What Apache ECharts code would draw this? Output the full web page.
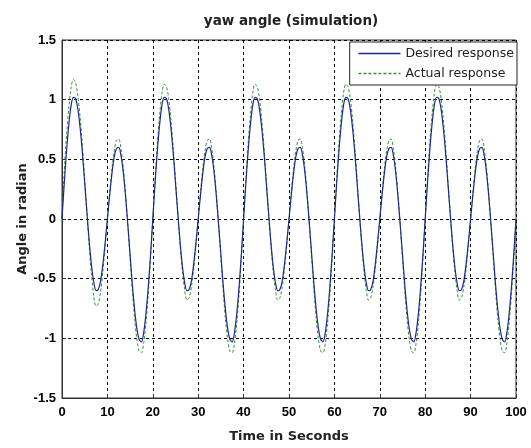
<!DOCTYPE html>
<html>
<head>
  <meta charset="UTF-8">
  <title>yaw angle (simulation)</title>
  <script src="https://cdn.jsdelivr.net/npm/echarts@6/dist/echarts.min.js"></script>
  <style>
    html, body { margin: 0; padding: 0; background: #fff; }
  </style>
</head>
<body>
  <div id="main" style="width: 531px; height: 448px;"></div>

  <script>
    // samples every 0.5 s, 0 .. 100 s
    const stepSeconds = 0.5;

    const desired = [
      0, 0.30, 0.57, 0.79, 0.95, 1.02, 1.01, 0.92, 0.76, 0.55, 0.30, 0.05, -0.19, -0.39, -0.53, -0.60, -0.59, -0.52, -0.38, -0.20,
      0, 0.20, 0.38, 0.52, 0.59, 0.60, 0.53, 0.39, 0.19, -0.05, -0.30, -0.55, -0.76, -0.92, -1.01, -1.03, -0.95, -0.79, -0.57, -0.30,
      0, 0.30, 0.57, 0.79, 0.95, 1.02, 1.01, 0.92, 0.76, 0.55, 0.30, 0.05, -0.19, -0.39, -0.53, -0.60, -0.59, -0.52, -0.38, -0.20,
      0, 0.20, 0.38, 0.52, 0.59, 0.60, 0.53, 0.39, 0.19, -0.05, -0.30, -0.55, -0.76, -0.92, -1.01, -1.03, -0.95, -0.79, -0.57, -0.30,
      0, 0.30, 0.57, 0.79, 0.95, 1.02, 1.01, 0.92, 0.76, 0.55, 0.30, 0.05, -0.19, -0.39, -0.53, -0.60, -0.59, -0.52, -0.38, -0.20,
      0, 0.20, 0.38, 0.52, 0.59, 0.60, 0.53, 0.39, 0.19, -0.05, -0.30, -0.55, -0.76, -0.92, -1.01, -1.03, -0.95, -0.79, -0.57, -0.30,
      0, 0.30, 0.57, 0.79, 0.95, 1.02, 1.01, 0.92, 0.76, 0.55, 0.30, 0.05, -0.19, -0.39, -0.53, -0.60, -0.59, -0.52, -0.38, -0.20,
      0, 0.20, 0.38, 0.52, 0.59, 0.60, 0.53, 0.39, 0.19, -0.05, -0.30, -0.55, -0.76, -0.92, -1.01, -1.03, -0.95, -0.79, -0.57, -0.30,
      0, 0.30, 0.57, 0.79, 0.95, 1.02, 1.01, 0.92, 0.76, 0.55, 0.30, 0.05, -0.19, -0.39, -0.53, -0.60, -0.59, -0.52, -0.38, -0.20,
      0, 0.20, 0.38, 0.52, 0.59, 0.60, 0.53, 0.39, 0.19, -0.05, -0.30, -0.55, -0.76, -0.92, -1.01, -1.03, -0.95, -0.79, -0.57, -0.30,
      0
    ];

    const actual = [
      0, 0.40, 0.70, 0.93, 1.10, 1.17, 1.14, 1.03, 0.85, 0.61, 0.33, 0.05, -0.23, -0.47, -0.65, -0.73, -0.71, -0.61, -0.44, -0.23,
      0, 0.22, 0.42, 0.57, 0.66, 0.67, 0.59, 0.43, 0.21, -0.05, -0.33, -0.60, -0.84, -1.01, -1.11, -1.12, -1.04, -0.87, -0.63, -0.33,
      0, 0.33, 0.63, 0.87, 1.05, 1.13, 1.11, 1.01, 0.83, 0.60, 0.33, 0.05, -0.21, -0.43, -0.59, -0.68, -0.66, -0.57, -0.42, -0.22,
      0, 0.22, 0.42, 0.57, 0.66, 0.67, 0.59, 0.43, 0.21, -0.05, -0.33, -0.60, -0.84, -1.01, -1.11, -1.12, -1.04, -0.87, -0.63, -0.33,
      0, 0.33, 0.63, 0.87, 1.05, 1.13, 1.11, 1.01, 0.83, 0.60, 0.33, 0.05, -0.21, -0.43, -0.59, -0.68, -0.66, -0.57, -0.42, -0.22,
      0, 0.22, 0.42, 0.57, 0.66, 0.67, 0.59, 0.43, 0.21, -0.05, -0.33, -0.60, -0.84, -1.01, -1.11, -1.12, -1.04, -0.87, -0.63, -0.33,
      0, 0.33, 0.63, 0.87, 1.05, 1.13, 1.11, 1.01, 0.83, 0.60, 0.33, 0.05, -0.21, -0.43, -0.59, -0.68, -0.66, -0.57, -0.42, -0.22,
      0, 0.22, 0.42, 0.57, 0.66, 0.67, 0.59, 0.43, 0.21, -0.05, -0.33, -0.60, -0.84, -1.01, -1.11, -1.12, -1.04, -0.87, -0.63, -0.33,
      0, 0.33, 0.63, 0.87, 1.05, 1.13, 1.11, 1.01, 0.83, 0.60, 0.33, 0.05, -0.21, -0.43, -0.59, -0.68, -0.66, -0.57, -0.42, -0.22,
      0, 0.22, 0.42, 0.57, 0.66, 0.67, 0.59, 0.43, 0.21, -0.05, -0.33, -0.60, -0.84, -1.01, -1.11, -1.12, -1.04, -0.87, -0.63, -0.33,
      0
    ];

    const seriesNames = ['Desired response', 'Actual response'];
    const desiredColor = '#1c2a8e';
    const actualColor = '#3a8f3a';

    const toPairs = (values) => values.map((v, i) => [i * stepSeconds, v]);

    const tickFont = {
      color: '#000',
      fontFamily: 'Liberation Sans, Arial, sans-serif',
      fontWeight: 'bold',
      fontSize: 13
    };

    const nameFont = {
      color: '#222',
      fontFamily: 'DejaVu Sans, sans-serif',
      fontWeight: 'bold',
      fontSize: 13
    };

    const option = {
      backgroundColor: '#fff',
      animation: false,
      title: {
        text: 'yaw angle (simulation)',
        left: 286,
        textAlign: 'center',
        top: 9,
        textStyle: {
          color: '#222',
          fontFamily: 'DejaVu Sans, sans-serif',
          fontWeight: 'bold',
          fontSize: 13.5
        }
      },
      legend: {
        data: [
          {
            name: seriesNames[0],
            itemStyle: { opacity: 0 },
            lineStyle: { color: desiredColor, width: 1.5, type: 'solid' }
          },
          {
            name: seriesNames[1],
            itemStyle: { opacity: 0 },
            lineStyle: { color: actualColor, width: 1.5, type: [3, 2] }
          }
        ],
        orient: 'vertical',
        right: 14,
        top: 42,
        padding: [5, 3, 5, 8],
        itemGap: 7,
        itemWidth: 42,
        itemHeight: 14,
        backgroundColor: '#fff',
        borderColor: '#222',
        borderWidth: 1,
        borderRadius: 0,
        textStyle: {
          color: '#222',
          fontFamily: 'DejaVu Sans, sans-serif',
          fontSize: 12.5
        }
      },
      grid: {
        show: true,
        left: 62,
        right: 15,
        top: 40,
        bottom: 50,
        backgroundColor: '#fff',
        borderColor: '#333',
        borderWidth: 1
      },
      xAxis: {
        type: 'value',
        min: 0,
        max: 100,
        interval: 10,
        name: 'Time in Seconds',
        nameLocation: 'middle',
        nameGap: 32,
        nameMoveOverlap: false,
        nameTextStyle: nameFont,
        axisLine: { show: true, onZero: false, lineStyle: { color: '#333', width: 1 } },
        axisTick: { show: true, inside: true, length: 4, lineStyle: { color: '#333' } },
        axisLabel: Object.assign({ margin: 8 }, tickFont),
        splitLine: {
          show: true,
          lineStyle: { color: '#000', type: [3, 3], width: 1 }
        }
      },
      yAxis: {
        type: 'value',
        min: -1.5,
        max: 1.5,
        interval: 0.5,
        name: 'Angle in radian',
        nameLocation: 'middle',
        nameGap: 33,
        nameMoveOverlap: false,
        nameTextStyle: nameFont,
        axisLine: { show: true, onZero: false, lineStyle: { color: '#333', width: 1 } },
        axisTick: { show: true, inside: true, length: 4, lineStyle: { color: '#333' } },
        axisLabel: Object.assign({ margin: 6 }, tickFont),
        splitLine: {
          show: true,
          lineStyle: { color: '#000', type: [3, 3], width: 1 }
        }
      },
      series: [
        {
          name: seriesNames[0],
          type: 'line',
          data: toPairs(desired),
          smooth: 0.3,
          showSymbol: false,
          symbol: 'none',
          z: 3,
          color: desiredColor,
          lineStyle: { color: desiredColor, width: 1.2 }
        },
        {
          name: seriesNames[1],
          type: 'line',
          data: toPairs(actual),
          smooth: 0.3,
          showSymbol: false,
          symbol: 'none',
          z: 2,
          color: actualColor,
          lineStyle: { color: actualColor, width: 1, type: [3, 2] }
        }
      ]
    };

    const chart = echarts.init(document.getElementById('main'), null, { renderer: 'canvas' });
    chart.setOption(option);
  </script>
</body>
</html>
